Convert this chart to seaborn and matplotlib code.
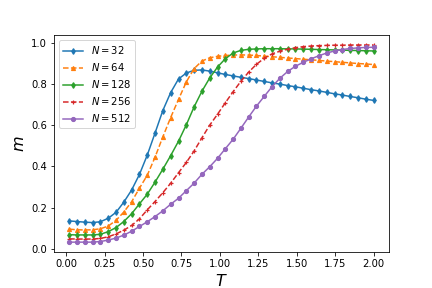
import numpy as np
import pandas as pd
import matplotlib
matplotlib.use('Agg')
import matplotlib.pyplot as plt
import seaborn as sns

# temperatures (40 points)
T = [0.020, 0.071, 0.122, 0.172, 0.223, 0.274, 0.325, 0.375, 0.426, 0.477,
     0.528, 0.578, 0.629, 0.680, 0.731, 0.782, 0.832, 0.883, 0.934, 0.985,
     1.035, 1.086, 1.137, 1.188, 1.238, 1.289, 1.340, 1.391, 1.442, 1.492,
     1.543, 1.594, 1.645, 1.695, 1.746, 1.797, 1.848, 1.898, 1.949, 2.000]

m_32 = [0.135, 0.132, 0.129, 0.127, 0.131, 0.148, 0.177, 0.226, 0.285, 0.361,
        0.455, 0.561, 0.671, 0.758, 0.824, 0.853, 0.866, 0.868, 0.862, 0.854,
        0.846, 0.839, 0.832, 0.826, 0.819, 0.812, 0.805, 0.799, 0.792, 0.786,
        0.779, 0.772, 0.766, 0.759, 0.752, 0.746, 0.739, 0.733, 0.726, 0.720]
m_64 = [0.095, 0.092, 0.091, 0.092, 0.097, 0.110, 0.138, 0.178, 0.228, 0.294,
        0.357, 0.444, 0.543, 0.637, 0.725, 0.810, 0.874, 0.911, 0.927, 0.934,
        0.938, 0.940, 0.941, 0.940, 0.938, 0.935, 0.932, 0.929, 0.926, 0.923,
        0.920, 0.917, 0.914, 0.911, 0.908, 0.905, 0.902, 0.899, 0.897, 0.894]
m_128 = [0.068, 0.067, 0.067, 0.067, 0.070, 0.083, 0.103, 0.132, 0.170, 0.218,
         0.265, 0.323, 0.386, 0.452, 0.522, 0.602, 0.688, 0.764, 0.829, 0.882,
         0.922, 0.950, 0.963, 0.968, 0.970, 0.971, 0.971, 0.971, 0.970, 0.970,
         0.969, 0.968, 0.967, 0.966, 0.965, 0.964, 0.963, 0.962, 0.961, 0.960]
m_256 = [0.048, 0.047, 0.047, 0.047, 0.050, 0.058, 0.072, 0.090, 0.113, 0.145,
         0.189, 0.229, 0.272, 0.318, 0.369, 0.419, 0.474, 0.538, 0.600, 0.653,
         0.708, 0.762, 0.813, 0.858, 0.895, 0.925, 0.946, 0.959, 0.969, 0.976,
         0.981, 0.984, 0.986, 0.987, 0.988, 0.988, 0.989, 0.989, 0.989, 0.989]
m_512 = [0.032, 0.032, 0.032, 0.032, 0.035, 0.042, 0.052, 0.066, 0.085, 0.108,
         0.131, 0.156, 0.184, 0.216, 0.245, 0.282, 0.318, 0.361, 0.398, 0.439,
         0.485, 0.531, 0.585, 0.640, 0.692, 0.740, 0.787, 0.828, 0.861, 0.886,
         0.905, 0.922, 0.937, 0.950, 0.960, 0.967, 0.972, 0.975, 0.977, 0.978]

sizes = [32, 64, 128, 256, 512]
series = [m_32, m_64, m_128, m_256, m_512]
markers = ['d', '^', 'd', '+', 'o']
linestyles = ['-', '--', '-', '--', '-']
colors = sns.color_palette('tab10', 5)

fig, ax = plt.subplots(figsize=(6, 4), dpi=72)
fig.subplots_adjust(left=0.125, right=0.9, top=0.878, bottom=0.125)

for n, m, mk, ls, c in zip(sizes, series, markers, linestyles, colors):
    sns.lineplot(x=T, y=m, ax=ax, label=f'$N = {n}$', marker=mk,
                 linestyle=ls, color=c, markersize=4, markeredgecolor=c,
                 markeredgewidth=1.2, linewidth=1.5)

ax.set_xlabel('$T$', fontsize=16)
ax.set_ylabel('$m$', fontsize=16)
ax.legend(loc='upper left')

plt.savefig('out.png', dpi=72)
